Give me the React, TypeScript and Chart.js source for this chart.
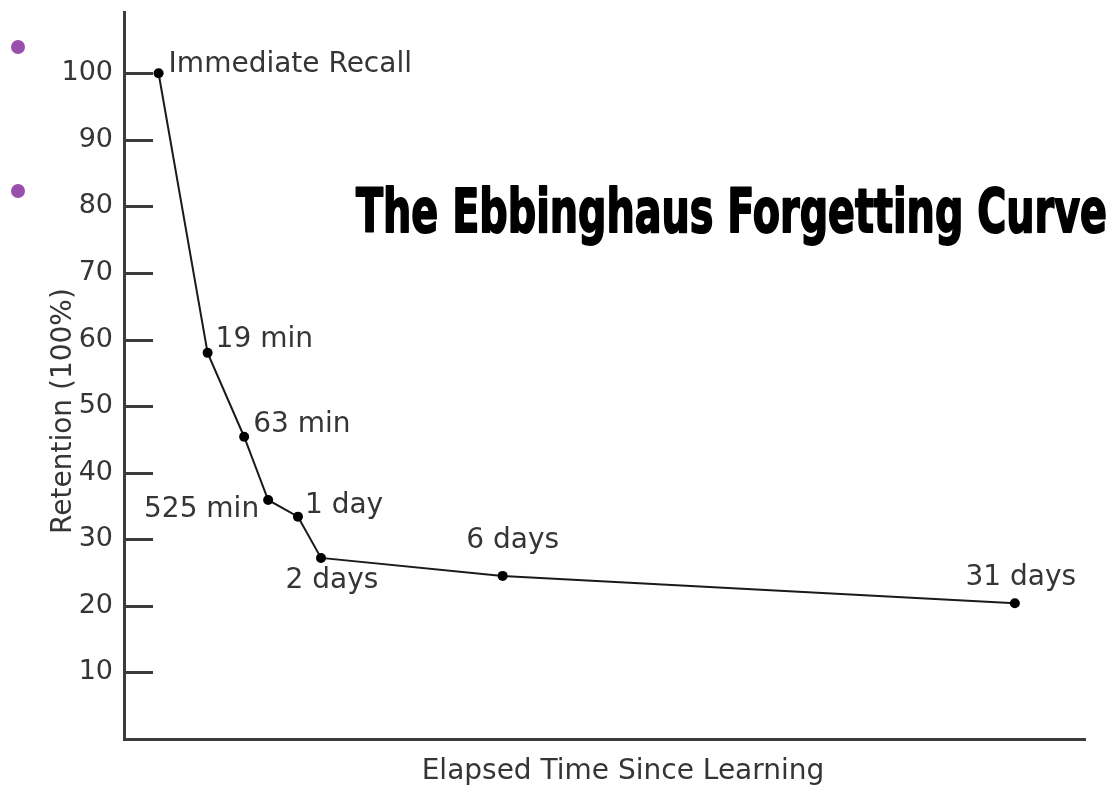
import React, { useEffect, useRef } from "react";
import { Chart, registerables } from "chart.js";

Chart.register(...registerables);

// ---- data ----
const stageLabels = ["Immediate Recall", "19 min", "63 min", "525 min", "1 day", "2 days", "6 days", "31 days"];
const elapsedPosition = [3.6, 8.7, 12.5, 15.0, 18.1, 20.5, 39.4, 92.7];
const retentionValues = [100, 58.0, 45.4, 35.9, 33.4, 27.2, 24.5, 20.4];
const yTickValues = [10, 20, 30, 40, 50, 60, 70, 80, 90, 100];
const chartTitle = "The Ebbinghaus Forgetting Curve";
const xAxisTitle = "Elapsed Time Since Learning";
const yAxisTitle = "Retention (100%)";

// ---- label placement (styling, not data) ----
const labelPlacement = [
  { dx: 10, dy: -1, align: "left" },
  { dx: 8, dy: -6, align: "left" },
  { dx: 9, dy: -5, align: "left" },
  { dx: -9, dy: 17, align: "right" },
  { dx: 7, dy: -4, align: "left" },
  { dx: 11, dy: 30, align: "center" },
  { dx: 10, dy: -28, align: "center" },
  { dx: 6, dy: -18, align: "center" },
];

const FONT = '"DejaVu Sans", Verdana, sans-serif';
const TEXT_COLOR = "#353535";
const AXIS_COLOR = "#3c3c3c";

const annotatePlugin = {
  id: "annotate",
  afterDatasetsDraw(chart: any) {
    const { ctx, chartArea, scales } = chart;
    const y = scales.y;
    ctx.save();
    // inward tick marks
    ctx.strokeStyle = AXIS_COLOR;
    ctx.lineWidth = 3;
    yTickValues.forEach((v) => {
      const py = Math.round(y.getPixelForValue(v)) + 0.5;
      ctx.beginPath();
      ctx.moveTo(chartArea.left, py);
      ctx.lineTo(chartArea.left + 29, py);
      ctx.stroke();
    });

    // point labels
    const meta = chart.getDatasetMeta(0);
    ctx.fillStyle = TEXT_COLOR;
    ctx.font = `28px ${FONT}`;
    ctx.textBaseline = "alphabetic";
    meta.data.forEach((pt: any, i: number) => {
      const p = labelPlacement[i];
      ctx.textAlign = p.align;
      ctx.fillText(stageLabels[i], pt.x + p.dx, pt.y + p.dy);
    });

    // axis titles
    ctx.font = `28px ${FONT}`;
    ctx.textAlign = "center";
    ctx.fillText(xAxisTitle, 623, 779);
    ctx.save();
    ctx.translate(71, 411);
    ctx.rotate(-Math.PI / 2);
    ctx.fillText(yAxisTitle, 0, 0);
    ctx.restore();

    // main title (condensed heavy)
    ctx.fillStyle = "#000";
    ctx.strokeStyle = "#000";
    ctx.lineWidth = 2;
    ctx.lineJoin = "round";
    ctx.font = `bold 60px ${FONT}`;
    ctx.textAlign = "left";
    const w = ctx.measureText(chartTitle).width;
    ctx.translate(356, 232);
    ctx.scale(751 / w, 1);
    ctx.fillText(chartTitle, 0, 0);
    ctx.strokeText(chartTitle, 0, 0);
    ctx.restore();
  },
};

export default function App() {
  const canvasRef = useRef<HTMLCanvasElement | null>(null);

  useEffect(() => {
    if (!canvasRef.current) return;
    const chart = new Chart(canvasRef.current, {
      type: "line",
      data: {
        datasets: [
          {
            label: "Retention",
            data: elapsedPosition.map((x, i) => ({ x, y: retentionValues[i] })),
            borderColor: "#1a1a1a",
            borderWidth: 2,
            pointRadius: 5,
            pointBackgroundColor: "#000",
            pointBorderColor: "#000",
            pointBorderWidth: 0,
            tension: 0,
            fill: false,
          },
        ],
      },
      options: {
        responsive: false,
        animation: false,
        layout: { padding: { top: 12, right: 29, left: 0, bottom: 0 }, autoPadding: false },
        plugins: {
          legend: { display: false },
          tooltip: { enabled: false },
          title: { display: false },
        },
        scales: {
          x: {
            type: "linear",
            min: 0,
            max: 100,
            grid: { display: false },
            border: { display: true, color: AXIS_COLOR, width: 3 },
            ticks: { display: false },
            afterFit: (scale: any) => {
              scale.height = 53;
              scale.paddingLeft = 0;
              scale.paddingRight = 0;
            },
          },
          y: {
            type: "linear",
            min: 0,
            max: 109.2,
            grid: { display: false },
            border: { display: true, color: AXIS_COLOR, width: 3 },
            ticks: {
              padding: 3,
              color: TEXT_COLOR,
              font: { family: FONT, size: 27 },
            },
            afterBuildTicks: (scale: any) => {
              scale.ticks = yTickValues.map((v) => ({ value: v }));
            },
            afterFit: (scale: any) => {
              scale.width = 124;
              scale.paddingTop = 0;
              scale.paddingBottom = 0;
            },
          },
        },
      },
      plugins: [annotatePlugin],
    });
    return () => chart.destroy();
  }, []);

  const bullet = (top: number) => (
    <div
      style={{
        position: "absolute",
        left: 11,
        top,
        width: 14,
        height: 14,
        borderRadius: "50%",
        background: "#9b4fad",
      }}
    />
  );

  return (
    <div style={{ position: "absolute", left: 0, top: 0, width: 1114, height: 792, background: "#fff" }}>
      <canvas ref={canvasRef} width={1114} height={792} style={{ display: "block" }} />
      {bullet(40)}
      {bullet(184)}
    </div>
  );
}
